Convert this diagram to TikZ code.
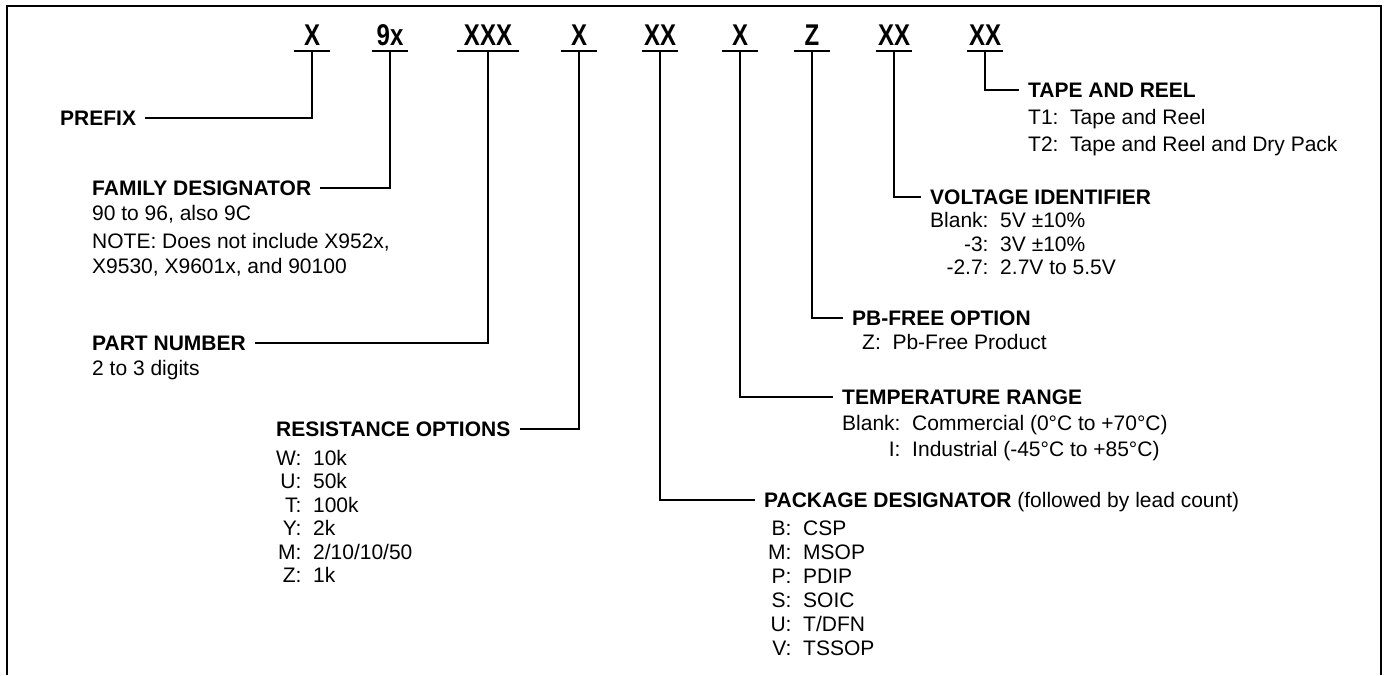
\documentclass[tikz,border=0pt]{standalone}
\usepackage{fontspec}
\setmainfont{Liberation Sans}
\newfontfamily\narrowsans[FakeStretch=0.8]{Liberation Sans}
\usetikzlibrary{positioning}
\newcommand{\textsize}[1]{\fontsize{21}{#1}\selectfont}
\newcommand{\optiontable}[1]{\begin{tabular}{@{}r@{:\ \ }l@{}}#1\end{tabular}}

\begin{document}
\begin{tikzpicture}[
    x=1pt, y=-1pt,
    code/.style={
        font=\narrowsans\bfseries\fontsize{30}{32}\selectfont,
        inner sep=0pt,
        minimum width=35pt,
        text height=21.5pt,
        text depth=6pt,
        anchor=base
    },
    heading/.style={
        font=\bfseries\textsize{24},
        inner xsep=9pt,
        inner ysep=0pt,
        text height=15pt,
        text depth=0pt,
        anchor=west
    },
    detail/.style={
        font=\textsize{25},
        inner sep=0pt,
        align=left
    },
    leader/.style={line width=1.8pt},
    frame/.style={line width=2pt}
]
    \useasboundingbox (0,0) rectangle (1388,675);
    \draw[frame] (7,675) -- (7,6) -- (1381,6) -- (1381,675);

    % part number fields
    \node[code] (cprefix) at (312,45) {X};
    \node[code] (cfamily) at (390,45) {9x};
    \node[code, minimum width=61pt] (cpart) at (488,45) {XXX};
    \node[code] (cres) at (579,45) {X};
    \node[code] (cpkg) at (660,45) {XX};
    \node[code] (ctemp) at (740,45) {X};
    \node[code] (cpb) at (812,45) {Z};
    \node[code] (cvolt) at (894,45) {XX};
    \node[code] (ctape) at (985,45) {XX};
    \foreach \c in {cprefix,cfamily,cpart,cres,cpkg,ctemp,cpb,cvolt,ctape}
        \draw[leader] (\c.south west) -- (\c.south east);

    % left hand side
    \node[heading] (prefix) at (51,118) {PREFIX};
    \node[heading] (family) at (83,188) {FAMILY DESIGNATOR};
    \node[detail,
        below right=7pt and 9pt of family.south west] (familyinfo)
        {\begin{tabular}{@{}l@{}}
            90 to 96, also 9C\\[3pt]
            NOTE: Does not include X952x,\\
            X9530, X9601x, and 90100
        \end{tabular}};
    \node[heading] (part) at (83,343) {PART NUMBER};
    \node[detail, below right=7.5pt and 9pt of part.south west] (partinfo)
        {\begin{tabular}{@{}l@{}}2 to 3 digits\end{tabular}};
    \node[heading] (res) at (267,429) {RESISTANCE OPTIONS};
    \node[detail, font=\textsize{23.5},
        below right=12pt and 9pt of res.south west] (resinfo)
        {\optiontable{W & 10k\\ U & 50k\\ T & 100k\\ Y & 2k\\ M & 2/10/10/50\\ Z & 1k}};

    % right hand side
    \node[heading] (tape) at (1019,90) {TAPE AND REEL};
    \node[detail, font=\textsize{27},
        below right=8pt and 9pt of tape.south west] (tapeinfo)
        {\optiontable{T1 & Tape and Reel\\ T2 & Tape and Reel and Dry Pack}};
    \node[heading] (volt) at (921,197) {VOLTAGE IDENTIFIER};
    \node[detail, font=\textsize{23.5},
        below right=6.5pt and 9pt of volt.south west] (voltinfo)
        {\optiontable{Blank & 5V ±10\%\\ -3 & 3V ±10\%\\ -2.7 & 2.7V to 5.5V}};
    \node[heading] (pb) at (843,318) {PB-FREE OPTION};
    \node[detail, below right=6.5pt and 19pt of pb.south west] (pbinfo)
        {\optiontable{Z & Pb-Free Product}};
    \node[heading] (temp) at (833,397) {TEMPERATURE RANGE};
    \node[detail, font=\textsize{26},
        below right=7pt and 9pt of temp.south west] (tempinfo)
        {\optiontable{Blank & Commercial (0°C to +70°C)\\ I & Industrial (-45°C to +85°C)}};
    \node[heading] (pkg) at (755,500)
        {PACKAGE DESIGNATOR \mdseries(followed by lead count)};
    \node[detail, font=\textsize{24},
        below right=11pt and 13pt of pkg.south west] (pkginfo)
        {\optiontable{B & CSP\\ M & MSOP\\ P & PDIP\\ S & SOIC\\ U & T/DFN\\ V & TSSOP}};

    % leaders from the fields
    \draw[leader] (cprefix.south) |- (prefix.east);
    \draw[leader] (cfamily.south) |- (family.east);
    \draw[leader] (cpart.south) |- (part.east);
    \draw[leader] (cres.south) |- (res.east);
    \draw[leader] (cpkg.south) |- (pkg.west);
    \draw[leader] (ctemp.south) |- (temp.west);
    \draw[leader] (cpb.south) |- (pb.west);
    \draw[leader] (cvolt.south) |- (volt.west);
    \draw[leader] (ctape.south) |- (tape.west);
\end{tikzpicture}
\end{document}
